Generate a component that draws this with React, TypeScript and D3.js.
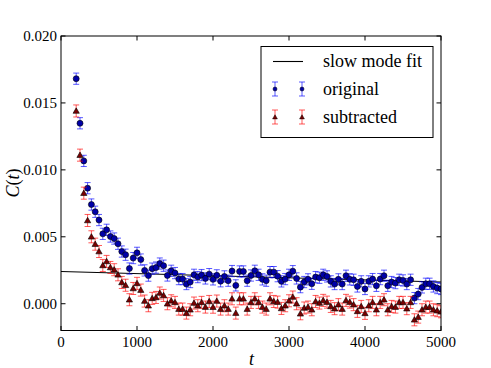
import React from "react";
import * as d3 from "d3";

const tValues = [
  200, 250, 300, 350, 400, 450, 500, 550, 600, 650, 700, 750, 800, 850, 900, 950,
  1000, 1050, 1100, 1150, 1200, 1250, 1300, 1350, 1400, 1450, 1500, 1550, 1600, 1650, 1700, 1750, 1800, 1850, 1900, 1950,
  2000, 2050, 2100, 2150, 2200, 2250, 2300, 2350, 2400, 2450, 2500, 2550, 2600, 2650, 2700, 2750, 2800, 2850, 2900, 2950,
  3000, 3050, 3100, 3150, 3200, 3250, 3300, 3350, 3400, 3450, 3500, 3550, 3600, 3650, 3700, 3750, 3800, 3850, 3900, 3950,
  4000, 4050, 4100, 4150, 4200, 4250, 4300, 4350, 4400, 4450, 4500, 4550, 4600, 4650, 4700, 4750, 4800, 4850, 4900, 4950, 5000,
];

const originalC = [
  0.01681, 0.01348, 0.01067, 0.00863, 0.00741, 0.00687, 0.00625, 0.00522, 0.00552, 0.00502, 0.00487, 0.00448, 0.0039, 0.00366, 0.00263, 0.00341,
  0.0038, 0.0033, 0.00249, 0.0021, 0.00262, 0.0027, 0.003, 0.00284, 0.00211, 0.00246, 0.00229, 0.00184, 0.00184, 0.00147, 0.00162, 0.00216, 0.00199, 0.00214, 0.00189, 0.00221,
  0.00182, 0.00212, 0.00168, 0.00204, 0.00172, 0.00244, 0.00137, 0.00241, 0.00241, 0.00172, 0.00211, 0.00246, 0.00216, 0.00182, 0.00172, 0.00236, 0.00236, 0.00206, 0.00167, 0.00184,
  0.00216, 0.00243, 0.00189, 0.00124, 0.00162, 0.00182, 0.00149, 0.00199, 0.00194, 0.00216, 0.00204, 0.00167, 0.00147, 0.00182, 0.00147, 0.00209, 0.00182, 0.00179, 0.00129, 0.00167,
  0.0011, 0.00167, 0.00184, 0.00134, 0.00184, 0.00209, 0.00134, 0.00162, 0.00154, 0.00179, 0.00174, 0.00147, 0.00179, 0.00042, 0.00072, 0.00122, 0.00149, 0.00149, 0.00129, 0.00117, 0.0011,
];

const subtractedC = [
  0.0144, 0.0111, 0.00826, 0.00622, 0.005, 0.00445, 0.0039, 0.00286, 0.00316, 0.00271, 0.00254, 0.00216, 0.00159, 0.00138, 0.0003, 0.00114,
  0.00152, 0.00102, 0.0002, -0.00015, 0.0004, 0.00047, 0.0008, 0.00062, 0.0, 0.00022, 0.0001, -0.0004, -0.0004, -0.0007, -0.00045, 0.00005, -0.00015, 0.0001, -0.00025, 0.00017,
  -0.00026, 0.0002, -0.0004, -0.00015, -0.0004, 0.00037, -0.0007, 0.00037, 0.00037, -0.0004, 0.0001, 0.00037, 0.0001, -0.00025, -0.0004, 0.00037, 0.00017, 0.00012, -0.00035, -0.00015,
  0.00022, 0.0005, 0.0, -0.00075, -0.00032, -0.00025, -0.00045, 0.00017, 0.00005, 0.00025, 0.00012, -0.0002, -0.00037, -0.00007, -0.0004, 0.00025, 0.00012, -0.00007, -0.00057, -0.0002,
  -0.00072, -0.00015, 0.0001, -0.00045, 0.0001, 0.0003, -0.00045, -0.0002, -0.00025, 0.0001, 0.0001, -0.00037, 0.0001, -0.0012, -0.001, -0.00045, -0.00025, -0.00025, -0.00045, -0.00052, -0.0006,
];

const originalErr = 0.00042;
const subtractedErr = 0.00045;

const fitT = [0, 5000];
const fitC = [0.00241, 0.00162];

const xTicks = [0, 1000, 2000, 3000, 4000, 5000];
const yTicks = [0.0, 0.005, 0.01, 0.015, 0.02];

const legendLabels = ["slow mode fit", "original", "subtracted"];

const W = 491;
const H = 368;
const L = 61;
const R = 441;
const T = 36;
const B = 330.5;
const FONT = '"Liberation Serif"';

export default function App() {
  const x = d3.scaleLinear().domain([0, 5000]).range([L, R]);
  const y = d3.scaleLinear().domain([-0.002, 0.02]).range([B, T]);
  const fitLine = d3
    .line<number>()
    .x((_, i) => x(fitT[i]))
    .y((d) => y(d));
  const tri = d3.symbol().type(d3.symbolTriangle).size(17)();
  const triSmall = d3.symbol().type(d3.symbolTriangle).size(10)();
  const cap = 3;
  const ts: React.CSSProperties = { fontFamily: FONT };

  const errBars = (vals: number[], err: number, color: string) =>
    vals.map((v, i) => {
      const cx = x(tValues[i]);
      const y1 = y(v + err);
      const y2 = y(v - err);
      return (
        <g key={i} stroke={color} strokeOpacity={0.65} strokeWidth={1}>
          <line x1={cx} x2={cx} y1={y1} y2={y2} />
          <line x1={cx - cap} x2={cx + cap} y1={y1} y2={y1} />
          <line x1={cx - cap} x2={cx + cap} y1={y2} y2={y2} />
        </g>
      );
    });

  return (
    <div style={{ position: "fixed", left: 0, top: 0, width: W, height: H, background: "#fff" }}>
      <svg width={W} height={H} style={{ display: "block" }}>
        <rect width={W} height={H} fill="#fff" />
        <defs>
          <clipPath id="plotclip">
            <rect x={L} y={T} width={R - L} height={B - T} />
          </clipPath>
        </defs>
        <g clipPath="url(#plotclip)">
          <path d={fitLine(fitC) || ""} fill="none" stroke="#000" strokeWidth={1.1} />
          {errBars(originalC, originalErr, "#0000ff")}
          {originalC.map((v, i) => (
            <circle key={i} cx={x(tValues[i])} cy={y(v)} r={3} fill="#0000a8" stroke="#000" strokeWidth={0.6} />
          ))}
          {errBars(subtractedC, subtractedErr, "#ff0000")}
          {subtractedC.map((v, i) => (
            <path key={i} d={tri || ""} transform={`translate(${x(tValues[i])},${y(v) + 0.5})`} fill="#7a0000" stroke="#000" strokeWidth={0.6} />
          ))}
        </g>
        <rect x={L} y={T} width={R - L} height={B - T} fill="none" stroke="#000" strokeWidth={1} />
        {xTicks.map((t) => (
          <g key={"xt" + t}>
            <line x1={x(t)} x2={x(t)} y1={B} y2={B - 4.5} stroke="#000" />
            <line x1={x(t)} x2={x(t)} y1={T} y2={T + 4.5} stroke="#000" />
          </g>
        ))}
        {yTicks.map((v) => (
          <g key={"yt" + v}>
            <line x1={L} x2={L + 4.5} y1={y(v)} y2={y(v)} stroke="#000" />
            <line x1={R} x2={R - 4.5} y1={y(v)} y2={y(v)} stroke="#000" />
          </g>
        ))}
        <g style={ts} fontFamily="Liberation Serif" fill="#000">
          {xTicks.map((t) => (
            <text key={"xl" + t} x={x(t)} y={347} textAnchor="middle" fontSize={15} style={ts}>
              {String(t)}
            </text>
          ))}
          {yTicks.map((v) => (
            <text key={"yl" + v} x={57} y={y(v) + 5} textAnchor="end" fontSize={15} style={ts}>
              {d3.format(".3f")(v)}
            </text>
          ))}
          <text x={251.5} y={365} textAnchor="middle" fontSize={18} fontStyle="italic" style={ts}>
            t
          </text>
          <text transform="translate(19,183) rotate(-90)" textAnchor="middle" fontSize={18} style={ts}>
            <tspan fontStyle="italic">C</tspan>
            <tspan>(</tspan>
            <tspan fontStyle="italic">t</tspan>
            <tspan>)</tspan>
          </text>
        </g>
        <g>
          <rect x={261} y={46.5} width={172} height={91} fill="#fff" stroke="#000" strokeWidth={1} />
          <line x1={273} x2={303} y1={61.5} y2={61.5} stroke="#000" strokeWidth={1.1} />
          {[275, 302].map((lx) => (
            <g key={"o" + lx}>
              <g stroke="#0000ff" strokeOpacity={0.65}>
                <line x1={lx} x2={lx} y1={82} y2={96} />
                <line x1={lx - 3} x2={lx + 3} y1={82} y2={82} />
                <line x1={lx - 3} x2={lx + 3} y1={96} y2={96} />
              </g>
              <circle cx={lx} cy={89} r={2} fill="#0000a8" stroke="#000" strokeWidth={0.5} />
            </g>
          ))}
          {[275, 302].map((lx) => (
            <g key={"s" + lx}>
              <g stroke="#ff0000" strokeOpacity={0.65}>
                <line x1={lx} x2={lx} y1={110} y2={124} />
                <line x1={lx - 3} x2={lx + 3} y1={110} y2={110} />
                <line x1={lx - 3} x2={lx + 3} y1={124} y2={124} />
              </g>
              <path d={triSmall || ""} transform={`translate(${lx},${117.5})`} fill="#7a0000" stroke="#000" strokeWidth={0.5} />
            </g>
          ))}
          {legendLabels.map((lab, i) => (
            <text key={lab} x={323} y={67 + i * 28} fontSize={18} fill="#000" style={ts}>
              {lab}
            </text>
          ))}
        </g>
      </svg>
    </div>
  );
}
